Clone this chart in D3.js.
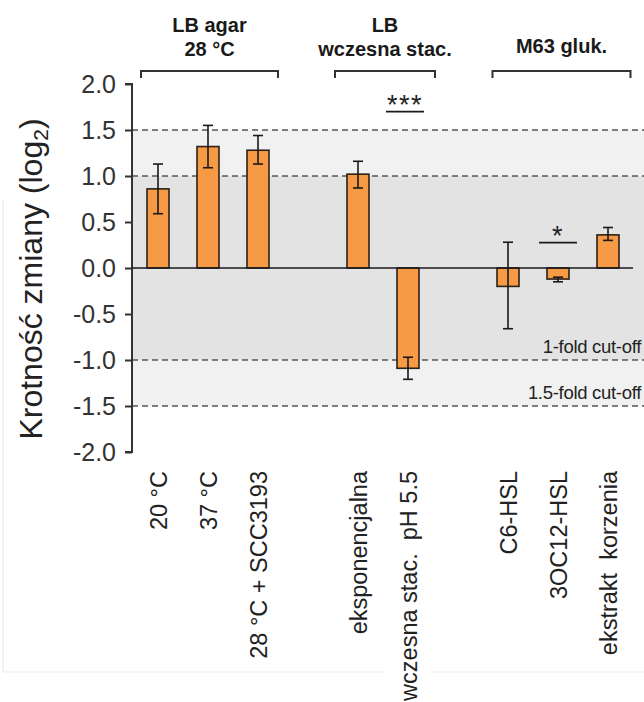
<!DOCTYPE html>
<html><head><meta charset="utf-8">
<script src="https://cdn.jsdelivr.net/npm/d3@7"></script>
<style>html,body{margin:0;padding:0;background:#fff;}svg{display:block;font-family:"Liberation Sans",Arial,sans-serif;}</style>
</head><body>
<script>
// ---- data ----
const slots = ["20 °C","37 °C","28 °C + SCC3193","gap1","eksponencjalna","wczesna stac.  pH 5.5","gap2","C6-HSL","3OC12-HSL","ekstrakt  korzenia"];
const categories = ["20 °C","37 °C","28 °C + SCC3193","eksponencjalna","wczesna stac.  pH 5.5","C6-HSL","3OC12-HSL","ekstrakt  korzenia"];
const values  = [0.86, 1.32, 1.28, 1.02, -1.09, -0.20, -0.12, 0.36];
const errLow  = [0.59, 1.09, 1.13, 0.87, -1.21, -0.66, -0.15, 0.30];
const errHigh = [1.13, 1.55, 1.44, 1.16, -0.97, 0.28, -0.10, 0.44];
const yTicks = [2.0, 1.5, 1.0, 0.5, 0.0, -0.5, -1.0, -1.5, -2.0];
const groupNames = [["LB agar","28 °C"],["LB","wczesna stac."],["M63 gluk."]];
const groupStart = [-0.34, 3.54, 6.69];   // in slot units
const groupEnd   = [2.40, 5.54, 9.45];
const sigLabels = ["***","*"];
const sigCategory = ["wczesna stac.  pH 5.5","3OC12-HSL"];
const sigLevel = [1.70, 0.275];
const cutoffs = [1.0, 1.5];
const cutoffLabels = ["1-fold cut-off","1.5-fold cut-off"];

const W = 644, H = 702;
const svg = d3.select("body").append("svg").attr("width", W).attr("height", H);

const x = d3.scaleBand().domain(slots).range([133, 633]).paddingInner(0.56).paddingOuter(0.28);
const y = d3.scaleLinear().domain([-2, 2]).range([452, 84]);
const slotPos = d3.scaleLinear().domain([0, 1]).range([x(slots[0]) + x.bandwidth()/2, x(slots[1]) + x.bandwidth()/2]);
const axisX = 132, plotRight = 644;

// faint frame
svg.append("path").attr("d", `M3,200 L3,672 L386,672 M432,672 L644,672`).attr("fill","none").attr("stroke","#ececec").attr("stroke-width",1.2);

// background bands
svg.append("rect").attr("x", axisX+1).attr("width", plotRight-axisX-1)
  .attr("y", y(1.5)).attr("height", y(-1.5)-y(1.5)).attr("fill", "#f1f1f1");
svg.append("rect").attr("x", axisX+1).attr("width", plotRight-axisX-1)
  .attr("y", y(1.0)).attr("height", y(-1.0)-y(1.0)).attr("fill", "#e3e3e3");

// dashed cutoff lines
cutoffs.forEach(c => [c, -c].forEach(v => {
  svg.append("line").attr("x1", axisX).attr("x2", plotRight).attr("y1", y(v)).attr("y2", y(v))
    .attr("stroke", "#555").attr("stroke-width", 1.6).attr("stroke-dasharray", "6,4");
}));
cutoffLabels.forEach((t, i) => {
  svg.append("text").attr("x", 641).attr("y", y(-cutoffs[i]) - 7).attr("text-anchor","end")
    .attr("font-size", 18.5).attr("fill", "#222").attr("letter-spacing", -0.3).text(t);
});

// y axis
const fmt = d => d3.format(".1f")(d).replace("\u2212", "-");
const yAxis = d3.axisLeft(y).tickValues(yTicks).tickSize(7).tickPadding(9).tickFormat(fmt);
const ga = svg.append("g").attr("transform", `translate(${axisX},0)`).call(yAxis);
ga.select(".domain").attr("stroke", "#333").attr("stroke-width", 2).attr("d", `M-7,${y(2)}H0V${y(-2)}H-7`);
ga.selectAll(".tick line").attr("stroke", "#333").attr("stroke-width", 2);
ga.selectAll(".tick text").attr("font-size", 25).attr("fill", "#333").attr("font-family","Liberation Sans, Arial, sans-serif");

// y title
const yt = svg.append("text").attr("transform", `translate(42,${279}) rotate(-90)`).attr("text-anchor","middle")
  .attr("font-size", 32).attr("fill", "#222");
yt.append("tspan").text("Krotność zmiany (log");
yt.append("tspan").attr("font-size", 21).attr("dy", 6).text("2");
yt.append("tspan").attr("dy", -6).text(")");

// bars
const bw = x.bandwidth();
svg.append("g").selectAll("rect").data(categories).join("rect")
  .attr("x", d => x(d)).attr("width", bw)
  .attr("y", (d,i) => y(Math.max(0, values[i])))
  .attr("height", (d,i) => Math.abs(y(values[i]) - y(0)))
  .attr("fill", "#f79a45").attr("stroke", "#2a2118").attr("stroke-width", 1.6);

// zero line
svg.append("line").attr("x1", axisX).attr("x2", 633).attr("y1", y(0)).attr("y2", y(0))
  .attr("stroke", "#1a1a1a").attr("stroke-width", 1.6);

// error bars
const eg = svg.append("g").attr("stroke", "#1a1a1a").attr("stroke-width", 1.6);
categories.forEach((c, i) => {
  const cx = x(c) + bw/2;
  eg.append("line").attr("x1", cx).attr("x2", cx).attr("y1", y(errHigh[i])).attr("y2", y(errLow[i]));
  [errHigh[i], errLow[i]].forEach(v => eg.append("line").attr("x1", cx-5).attr("x2", cx+5).attr("y1", y(v)).attr("y2", y(v)));
});

// x labels
categories.forEach(c => {
  const cx = x(c) + bw/2 + 9;
  svg.append("text").attr("transform", `translate(${cx},471) rotate(-90)`).attr("text-anchor","end")
    .attr("font-size", 23.5).attr("fill", "#222").style("white-space","pre").text(c);
});

// group brackets and headers
groupNames.forEach((lines, i) => {
  const x0 = slotPos(groupStart[i]), x1 = slotPos(groupEnd[i]);
  svg.append("path").attr("d", `M${x0},78 V71 H${x1} V78`).attr("fill","none").attr("stroke","#333").attr("stroke-width",2);
  const mid = (x0 + x1) / 2;
  const base = lines.length === 2 ? 32 : 53;
  lines.forEach((t, k) => {
    svg.append("text").attr("x", mid).attr("y", base + k*24).attr("text-anchor","middle")
      .attr("font-size", 20).attr("font-weight","bold").attr("fill","#1a1a1a").text(t);
  });
});

// significance marks
sigLabels.forEach((s, i) => {
  const cx = x(sigCategory[i]) + bw/2 - (i === 0 ? 3 : 0);
  svg.append("line").attr("x1", cx-19).attr("x2", cx+19).attr("y1", y(sigLevel[i])).attr("y2", y(sigLevel[i]))
    .attr("stroke","#1a1a1a").attr("stroke-width",1.8);
  svg.append("text").attr("x", cx).attr("y", y(sigLevel[i]) + 2).attr("text-anchor","middle")
    .attr("font-size", 27).attr("letter-spacing", 1.5).attr("fill","#222").text(s);
});
</script>
</body></html>
